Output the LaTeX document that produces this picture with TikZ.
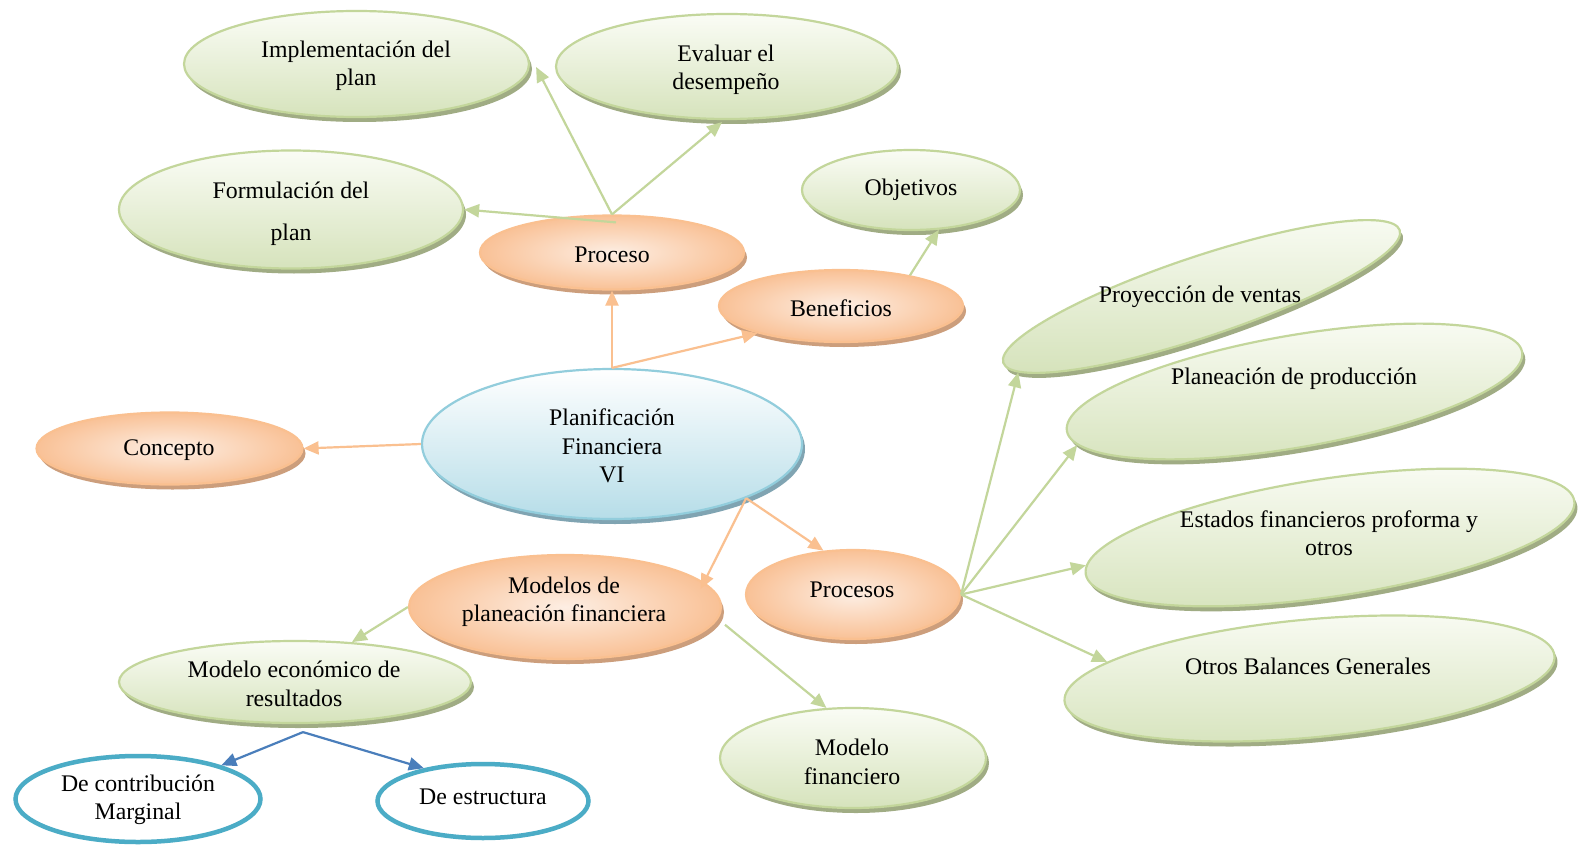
\documentclass[tikz,border=0pt]{standalone}
\usepackage{fontspec}
\setmainfont{Liberation Serif}
\usetikzlibrary{shapes.geometric,shadows,arrows.meta}

\definecolor{gline}{HTML}{C3D69B}
\definecolor{gtop}{HTML}{FAFCF5}
\definecolor{gbot}{HTML}{D6E3BC}
\definecolor{gshadow}{RGB}{160,172,132}
\definecolor{oline}{HTML}{FAC090}
\definecolor{oin}{HTML}{FDEEE3}
\definecolor{oout}{HTML}{F9C196}
\definecolor{oshadow}{RGB}{204,158,124}
\definecolor{bline}{HTML}{92CDDC}
\definecolor{bbot}{HTML}{B6DDE8}
\definecolor{bshadow}{RGB}{128,164,178}
\definecolor{ring}{HTML}{4BACC6}
\definecolor{barrowc}{HTML}{4A7EBB}

\begin{document}
\begin{tikzpicture}[x=1pt,y=-1pt,
  every node/.style={font=\fontsize{23.8}{28.5}\selectfont,align=center,inner sep=0pt},
  wh/.style 2 args={minimum width=#1pt,minimum height=#2pt},
  greenell/.style={ellipse,draw=gline,line width=2.2pt,top color=gtop,bottom color=gbot,
    drop shadow={shadow xshift=3pt,shadow yshift=-5pt,fill=gshadow,opacity=1}},
  orangeell/.style={ellipse,draw=oline,line width=2.2pt,inner color=oin,outer color=oout,
    drop shadow={shadow xshift=3pt,shadow yshift=-5pt,fill=oshadow,opacity=1}},
  blueell/.style={ellipse,draw=bline,line width=2.2pt,top color=white,bottom color=bbot,
    drop shadow={shadow xshift=3pt,shadow yshift=-5pt,fill=bshadow,opacity=1}},
  ringell/.style={ellipse,draw=ring,line width=4.5pt,fill=white},
  tip/.style={-{Triangle[length=15pt,width=13pt]}},
  garrow/.style={draw=gline,line width=2.2pt,tip},
  oarrow/.style={draw=oline,line width=2.2pt,tip},
  barrow/.style={draw=barrowc,line width=2.2pt,tip}]

\fill[white] (0,0) rectangle (1578,845);
\useasboundingbox (0,0) rectangle (1578,845);

% upper branch
\node[greenell,wh={345}{106}] (impl) at (356.5,64) {};
\node (implT) at (356,66) {Implementación del\\plan};
\node[greenell,wh={342}{105}] (eval) at (727,66.5) {};
\node (evalT) at (726,70) {Evaluar el\\desempeño};
\node[greenell,wh={344}{118}] (formul) at (291,209.5) {};
\node (formulT) at (291,214) {Formulación del\\[13pt]plan};
\node[orangeell,wh={264}{74}] (proceso) at (612,252.5) {};
\node (procesoT) at (612,255) {Proceso};
\node[greenell,wh={218}{80}] (objet) at (911,190) {Objetivos};
\node[orangeell,wh={244}{72}] (benef) at (841,306) {};
\node (benefT) at (841,308) {Beneficios};

% centre and left
\node[blueell,wh={380}{150}] (planif) at (612,444) {};
\node (planifT) at (612,446) {Planificación\\Financiera\\VI};
\node[orangeell,wh={266}{72}] (concepto) at (169.5,448.5) {};
\node (conceptoT) at (169,450) {Concepto};

% lower branch
\node[orangeell,wh={312}{104}] (modelos) at (565,607) {};
\node (modelosT) at (564,602) {Modelos de\\planeación financiera};
\node[orangeell,wh={214}{89}] (procesos) at (853,594.5) {};
\node (procesosT) at (852,590) {Procesos};
\node[greenell,wh={352}{82}] (modecon) at (295,682) {};
\node (modeconT) at (294,684) {Modelo económico de\\resultados};
\node[greenell,wh={266}{100}] (modfin) at (853,758) {};
\node (modfinT) at (852,762) {Modelo\\financiero};
\node[ringell,wh={245}{86}] (decontrib) at (138,799) {};
\node (decontribT) at (138,800) {De contribución\\Marginal};
\node[ringell,wh={211}{74}] (deest) at (483,801) {};
\node (deestT) at (483,797) {De estructura};

% tilted ellipses on the right
\node[greenell,wh={418}{80},rotate=18.5] (proy) at (1201.5,296.5) {};
\node (proyT) at (1200,297) {Proyección de ventas};
\node[greenell,wh={462}{112},rotate=9.85] (planea) at (1294.5,391.5) {};
\node (planeaT) at (1294,379) {Planeación de producción};
\node[greenell,wh={494}{118},rotate=8.5] (estados) at (1330,537.5) {};
\node (estadosT) at (1329,533) {Estados financieros proforma y\\otros};
\node[greenell,wh={492}{118},rotate=5.3] (otros) at (1309.5,678.5) {};
\node (otrosT) at (1308,666) {Otros Balances Generales};

% connectors
\draw[garrow] (proceso.north) -- ([xshift=6pt,yshift=-3pt]impl.east);
\draw[garrow] (proceso.north) -- ([xshift=-5pt,yshift=-2pt]eval.south);
\draw[garrow] ([xshift=4pt,yshift=-8pt]proceso.north) -- (formul.east);
\draw[garrow] (benef.24) -- (objet.-55);

\draw[oarrow] (planif.north) -- (proceso.south);
\draw[oarrow] (planif.north) -- (benef.198);
\draw[oarrow] (planif.west) -- (concepto.east);
\draw[oarrow] (planif.-22) -- ([xshift=-12pt]modelos.7);
\draw[oarrow] (planif.-22) -- (procesos.124);

\draw[garrow] (procesos.east) -- (proy.184);
\draw[garrow] (procesos.east) -- (planea.184);
\draw[garrow] (procesos.east) -- (estados.178);
\draw[garrow] (procesos.east) -- (otros.170);

\draw[garrow] (modelos.west) -- (modecon.35);
\draw[garrow] ([xshift=10pt,yshift=-2pt]modelos.-6) -- (modfin.118);

\coordinate (fork) at ([xshift=8pt,yshift=-8pt]modecon.south);
\draw[barrow] (fork) -- (decontrib.22);
\draw[barrow] (fork) -- (deest.151);
\end{tikzpicture}
\end{document}
